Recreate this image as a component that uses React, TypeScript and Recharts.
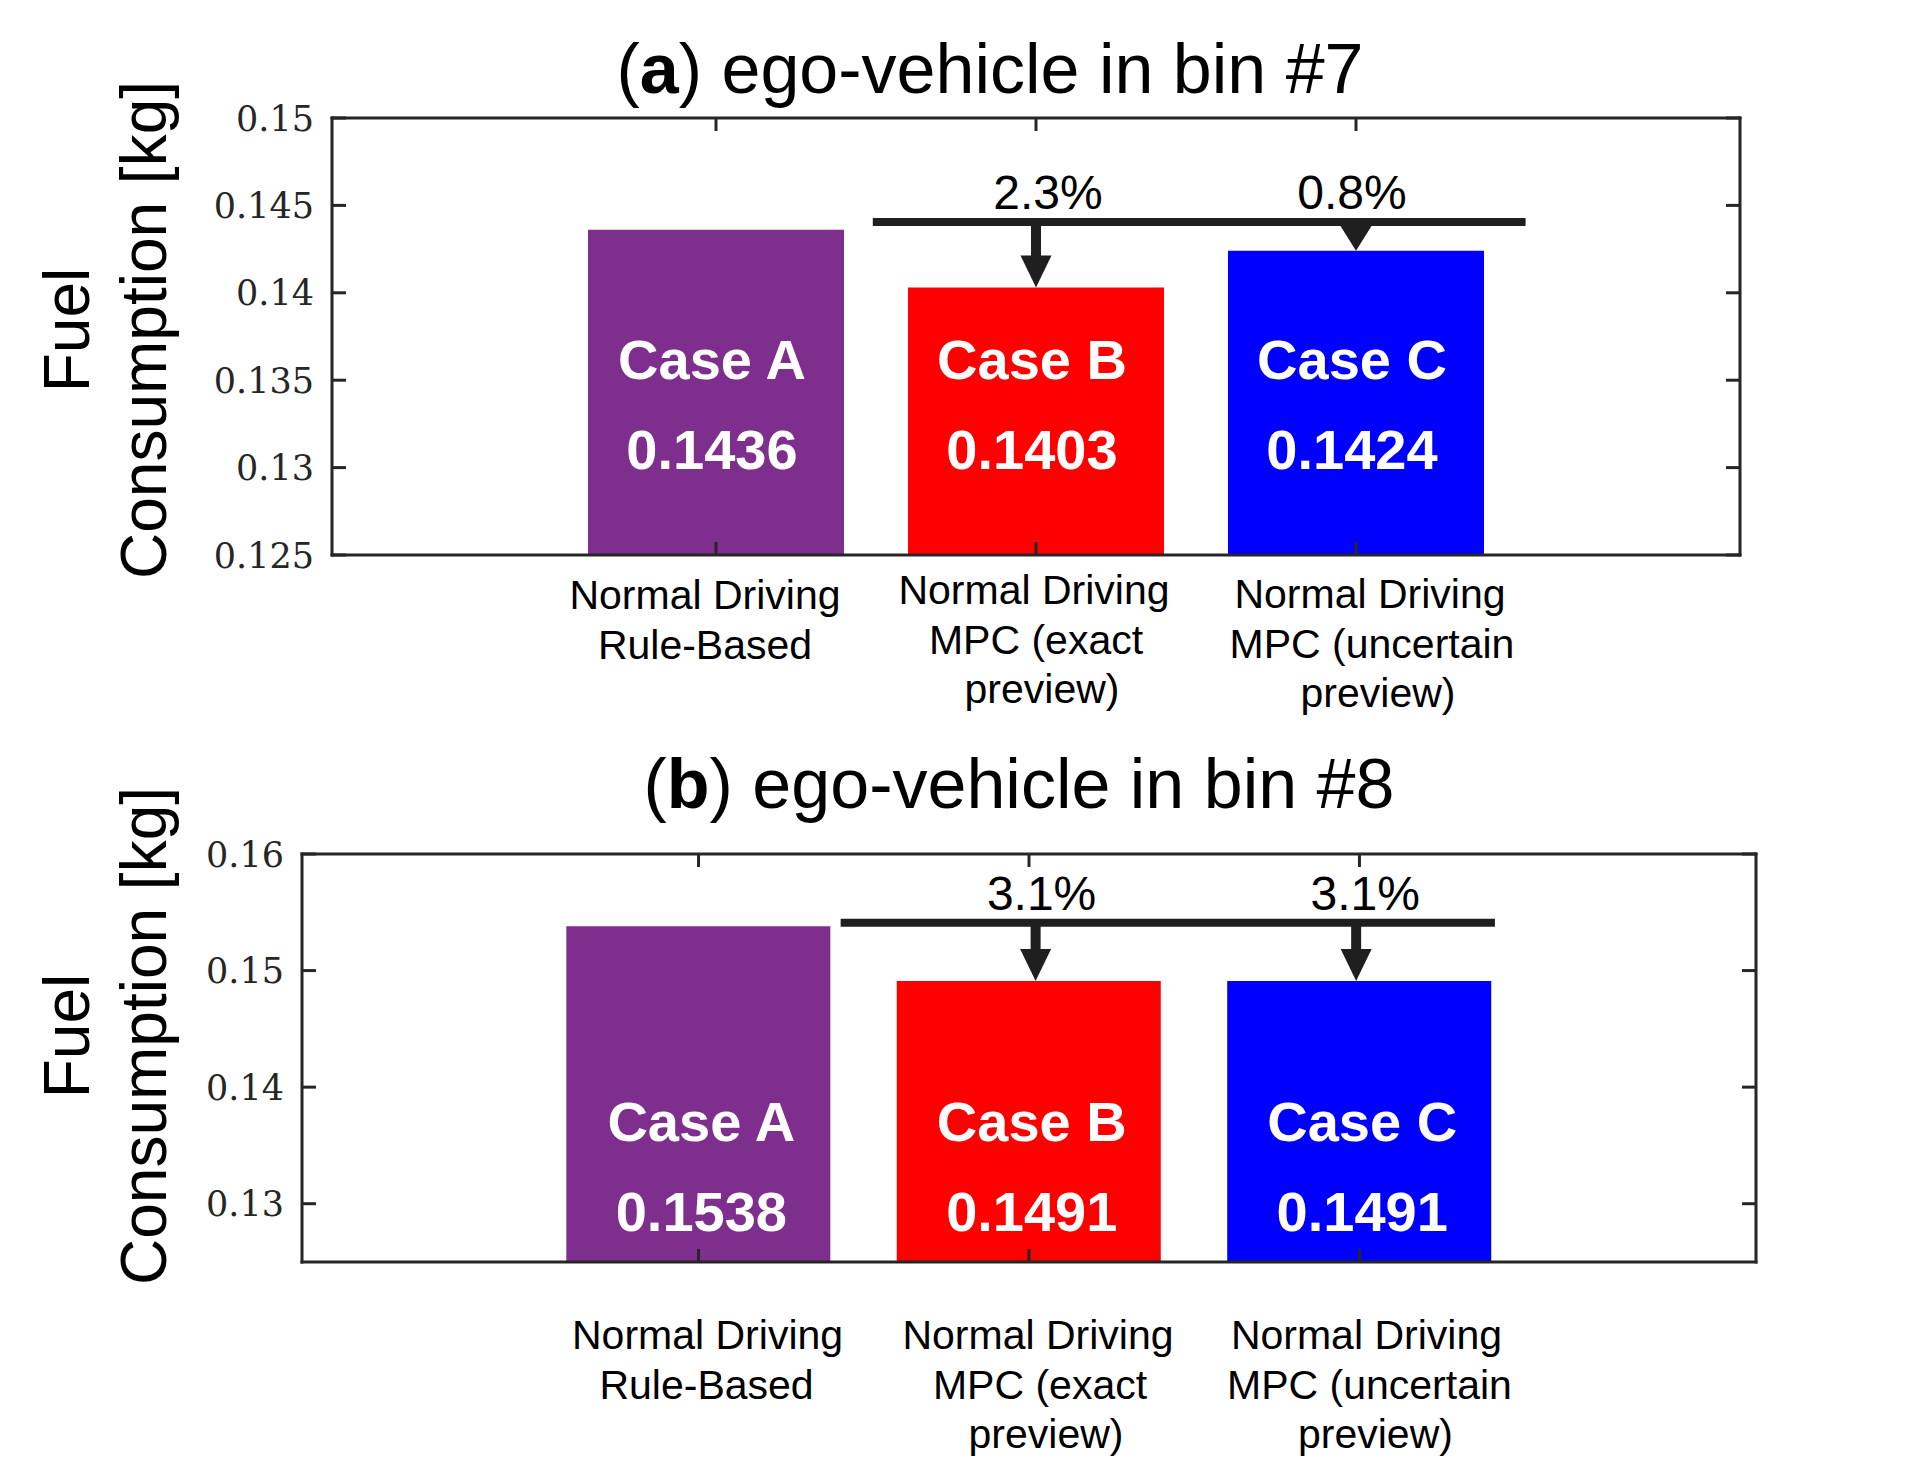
import React from 'react'
import { BarChart, Bar, XAxis, YAxis, Cell, LabelList, ReferenceLine } from 'recharts'

// categories and values
const categoryLines = [
  ['Normal Driving', 'Rule-Based'],
  ['Normal Driving', 'MPC (exact', 'preview)'],
  ['Normal Driving', 'MPC (uncertain', 'preview)'],
]
const caseNames = ['Case A', 'Case B', 'Case C']
const barColors = ['#7E2F8E', '#FF0000', '#0000FF']

const fuelBin7 = [0.1436, 0.1403, 0.1424]
const fuelBin8 = [0.1538, 0.1491, 0.1491]

const yTicksBin7 = [0.125, 0.13, 0.135, 0.14, 0.145, 0.15]
const yTicksBin8 = [0.13, 0.14, 0.15, 0.16]

const savingBin7 = ['2.3%', '0.8%']
const savingBin8 = ['3.1%', '3.1%']

// bracket: x from, x to, y level
const bracketBin7 = [1.49, 3.53, 0.14405]
const bracketBin8 = [1.43, 3.41, 0.1541]
const arrowXBin7 = [2, 3]
const arrowXBin8 = [2.02, 2.99]

const SANS = "'Liberation Sans', Arial, sans-serif"
const SERIF = "'DejaVu Serif', serif"
const FRAME = '#262626'
const INK = '#1f1f1f'
const X_DOMAIN = [-0.2, 4.2]
const X_TICKS = [1, 2, 3]

const axisStyle = { stroke: FRAME, strokeWidth: 3, strokeLinecap: 'square' as const }

function Panel(props: any) {
  const {
    values, yDomain, yTicks, savings, bracket, arrowX, top, height, margin,
    barSize, labelGap, caseLift, valueLift, barLabelDx, lineNudge, lineLift, pctNudge,
  } = props

  const data = values.map((v: number, i: number) => ({ x: i + 1, value: v, name: caseNames[i] }))

  const bottomTick = ({ x, y, payload }: any) => {
    const idx = payload.value - 1
    const lines = categoryLines[idx] || []
    return (
      <g>
        <line x1={x} y1={y} x2={x} y2={y - 13} stroke={FRAME} strokeWidth={3} />
        <text textAnchor="middle" fontSize={41} fontFamily={SANS} fill="#000">
          {lines.map((l, j) => (
            <tspan key={j} x={x + lineNudge[idx][j]} y={y + labelGap + lineLift[idx] + j * 49.5}>{l}</tspan>
          ))}
        </text>
      </g>
    )
  }
  const topTick = ({ x, y }: any) => <line x1={x} y1={y} x2={x} y2={y + 13} stroke={FRAME} strokeWidth={3} />
  const leftTick = ({ x, y, payload }: any) => (
    <g>
      <line x1={x} y1={y} x2={x + 14} y2={y} stroke={FRAME} strokeWidth={3} />
      <text x={x - 18} y={y} dy="0.36em" textAnchor="end" fontSize={35} fontFamily={SERIF} fill={FRAME}>
        {String(payload.value)}
      </text>
    </g>
  )
  const rightTick = ({ x, y }: any) => <line x1={x} y1={y} x2={x - 14} y2={y} stroke={FRAME} strokeWidth={3} />

  const barText = (lift: number, fmt: (v: any) => string) => (p: any) => {
    const { x, y, width, height: h, value } = p
    return (
      <text x={x + width / 2 + barLabelDx} y={y + h - lift} textAnchor="middle" fill="#fff"
        fontSize={56} fontWeight="bold" fontFamily={SANS}>
        {fmt(value)}
      </text>
    )
  }

  const arrowShape = (text: string, nudge: number) => (p: any) => {
    const { x1, y1, x2, y2 } = p
    const head = Math.min(32, y2 - y1 - 4)
    return (
      <g>
        <line x1={x1} y1={y1} x2={x2} y2={y2 - head + 1} stroke={INK} strokeWidth={10} />
        <polygon points={`${x2 - 15.5},${y2 - head} ${x2 + 15.5},${y2 - head} ${x2},${y2}`} fill={INK} />
        <text x={x1 + nudge} y={y1 - 13} textAnchor="middle" fontSize={48} fontFamily={SANS} fill="#000">{text}</text>
      </g>
    )
  }

  return (
    <div style={{ position: 'absolute', left: 0, top }}>
      <BarChart width={1931} height={height} data={data} margin={margin}>
        <XAxis xAxisId="b" dataKey="x" type="number" domain={X_DOMAIN} allowDataOverflow ticks={X_TICKS} interval={0}
          height={60} tickLine={false} tickSize={0} tickMargin={0} axisLine={axisStyle} tick={bottomTick} />
        <XAxis xAxisId="t" dataKey="x" orientation="top" type="number" domain={X_DOMAIN} allowDataOverflow ticks={X_TICKS} interval={0}
          height={10} tickLine={false} tickSize={0} tickMargin={0} axisLine={axisStyle} tick={topTick} />
        <YAxis yAxisId="l" type="number" domain={yDomain} allowDataOverflow ticks={yTicks} interval={0}
          width={80} tickLine={false} tickSize={0} tickMargin={0} axisLine={axisStyle} tick={leftTick} />
        <YAxis yAxisId="r" orientation="right" type="number" domain={yDomain} allowDataOverflow ticks={yTicks} interval={0}
          width={10} tickLine={false} tickSize={0} tickMargin={0} axisLine={axisStyle} tick={rightTick} />
        <Bar xAxisId="b" yAxisId="l" dataKey="value" barSize={barSize} isAnimationActive={false}>
          {data.map((_: any, i: number) => <Cell key={i} fill={barColors[i]} />)}
          <LabelList dataKey="name" content={barText(caseLift, (v) => String(v))} />
          <LabelList dataKey="value" content={barText(valueLift, (v) => Number(v).toFixed(4))} />
        </Bar>
        <ReferenceLine xAxisId="b" yAxisId="l"
          segment={[{ x: bracket[0], y: bracket[2] }, { x: bracket[1], y: bracket[2] }]}
          stroke={INK} strokeWidth={8} />
        {arrowX.map((ax: number, i: number) => (
          <ReferenceLine key={i} xAxisId="b" yAxisId="l"
            segment={[{ x: ax, y: bracket[2] }, { x: ax, y: values[i + 1] }]}
            shape={arrowShape(savings[i], pctNudge[i])} />
        ))}
      </BarChart>
    </div>
  )
}

function YLabel({ cy }: { cy: number }) {
  return (
    <g fontFamily={SANS} fontSize={64} fill="#000" textAnchor="middle">
      <text transform={`translate(89,${cy}) rotate(-90)`}>Fuel</text>
      <text transform={`translate(166,${cy}) rotate(-90)`}>Consumption [kg]</text>
    </g>
  )
}

export default function App() {
  return (
    <div style={{ position: 'absolute', left: 0, top: 0, width: 1931, height: 1478, background: '#fff' }}>
      <Panel
        values={fuelBin7} yDomain={[0.125, 0.15]} yTicks={yTicksBin7}
        savings={savingBin7} bracket={bracketBin7} arrowX={arrowXBin7}
        top={0} height={740} margin={{ top: 108, right: 181, bottom: 125, left: 252 }}
        barSize={256} labelGap={54} caseLift={176} valueLift={86} barLabelDx={-4}
        lineNudge={[[-11, -11], [-2, 0, 6], [14, 16, 22]]} lineLift={[0, -5, -1]}
        pctNudge={[12, -4]}
      />
      <Panel
        values={fuelBin8} yDomain={[0.125, 0.16]} yTicks={yTicksBin8}
        savings={savingBin8} bracket={bracketBin8} arrowX={arrowXBin8}
        top={740} height={738} margin={{ top: 104, right: 165, bottom: 156, left: 222 }}
        barSize={264} labelGap={87} caseLift={121} valueLift={31} barLabelDx={3}
        lineNudge={[[9, 8], [9, 11, 17], [7, 10, 16]]} lineLift={[0, 0, 0]}
        pctNudge={[6, 9]}
      />
      <svg width={1931} height={1478} style={{ position: 'absolute', left: 0, top: 0, pointerEvents: 'none' }}>
        <text x={990} y={93} textAnchor="middle" fontSize={70} fontFamily={SANS} fill="#000">
          (<tspan fontWeight="bold">a</tspan>) ego-vehicle in bin #7
        </text>
        <text x={1019} y={808} textAnchor="middle" fontSize={70} fontFamily={SANS} fill="#000">
          (<tspan fontWeight="bold">b</tspan>) ego-vehicle in bin #8
        </text>
        <YLabel cy={330} />
        <YLabel cy={1036} />
      </svg>
    </div>
  )
}
